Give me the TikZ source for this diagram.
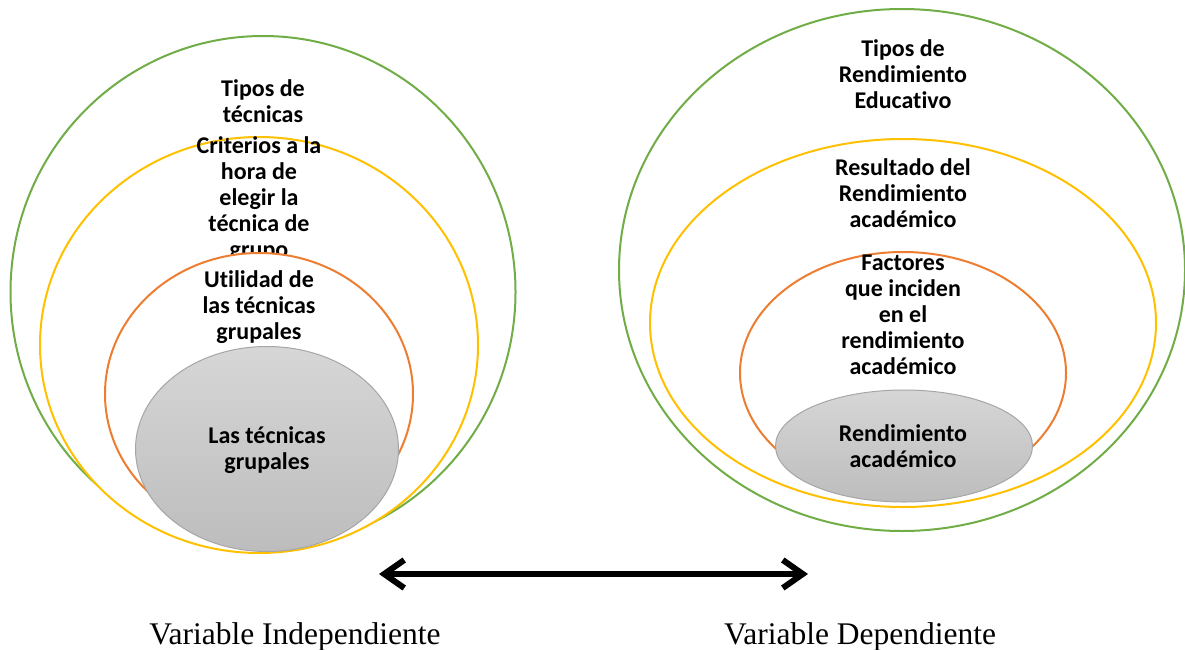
\documentclass[tikz,border=0pt]{standalone}
\usepackage{fontspec}
\setmainfont{Carlito}[Ligatures=NoCommon]
\newfontfamily\timesfont{Liberation Serif}
\usetikzlibrary{shapes.geometric,arrows.meta}
\definecolor{ringgreen}{HTML}{70AD47}
\definecolor{ringgold}{HTML}{FFC000}
\definecolor{ringorange}{HTML}{ED7D31}

\begin{document}
\begin{tikzpicture}[x=1pt,y=-1pt,
  ring/.style={ellipse,draw,fill=white,line width=2pt,inner sep=0pt},
  lbl/.style={align=center,font=\fontsize{24}{26}\selectfont\bfseries,inner sep=0pt},
  core/.style={ellipse,draw=black!35,line width=1pt,top color=black!16,bottom color=black!26,inner sep=0pt},
  varlbl/.style={font=\fontsize{31.5}{36}\selectfont\timesfont,anchor=base}]
\useasboundingbox (0,0) rectangle (1185,650);

% variable independiente
\node[ring,draw=ringgreen,minimum width=505,minimum height=512] (gi) at (263,292) {};
\node[lbl] (ti) at (263,101) {Tipos de\\técnicas};
\node[ring,draw=ringgold,minimum width=438,minimum height=416] (yi) at (259,345) {};
\node[lbl] (ci) at (259,199) {Criterios a la\\hora de\\elegir la\\técnica de\\grupo};
\node[ring,draw=ringorange,minimum width=308,minimum height=282] (oi) at (259,394) {};
\node[lbl] (ui) at (259,307) {Utilidad de\\las técnicas\\grupales};
\node[core,minimum width=263,minimum height=205] (li) at (267,449) {};
\node[lbl] (lti) at (267,450) {Las técnicas\\grupales};

% variable dependiente
\node[ring,draw=ringgreen,minimum width=566,minimum height=522] (gd) at (902,270) {};
\node[lbl] (td) at (903,74) {Tipos de\\Rendimiento\\Educativo};
\node[ring,draw=ringgold,minimum width=506,minimum height=368] (yd) at (903,323) {};
\node[lbl] (rd) at (903,193) {Resultado del\\Rendimiento\\académico};
\node[ring,draw=ringorange,minimum width=326,minimum height=242] (od) at (903,373) {};
\node[lbl] (fd) at (903,315) {Factores\\que inciden\\en el\\rendimiento\\académico};
\node[core,minimum width=257,minimum height=112] (ad) at (904,446) {};
\node[lbl] (rad) at (903,446) {Rendimiento\\académico};

\coordinate (al) at (379,574);
\coordinate (ar) at (808,574);
\draw[line width=6pt,{Straight Barb[length=20pt,width=28pt]}-{Straight Barb[length=20pt,width=28pt]}] (al) -- (ar);

\node[varlbl] (vi) at (295,644) {Variable Independiente};
\node[varlbl] (vd) at (860,644) {Variable Dependiente};
\end{tikzpicture}
\end{document}
